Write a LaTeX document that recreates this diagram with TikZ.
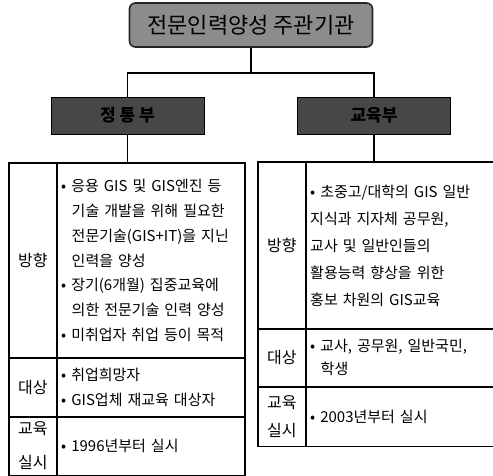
\documentclass[tikz,border=0pt]{standalone}
\usepackage{fontspec}
\setmainfont{Noto Sans CJK KR}
\usetikzlibrary{
  arrows.meta,
  positioning
}
\tikzset{>=Latex}
\newcommand{\ind}{\hspace*{0.7em}}

\begin{document}
\begin{tikzpicture}[x=1pt,y=-1pt,
  ttl/.style={draw=black!85,line width=1.6pt,rounded corners=6pt,fill=black!45,
    minimum width=243pt,minimum height=44pt,inner sep=0pt,font=\fontsize{22}{24}\selectfont},
  hdr/.style={draw=black,line width=1pt,fill=black!72,minimum width=153pt,
    minimum height=37pt,inner sep=0pt,font=\bfseries\fontsize{17}{20}\selectfont},
  lbl/.style={draw,line width=0.8pt,minimum width=47pt,inner sep=0pt,align=center,
    font=\fontsize{16}{34}\selectfont},
  txt/.style={draw,line width=0.8pt,text width=179pt,inner xsep=4pt,inner ysep=0pt,
    align=left,font=\fontsize{15}{24.7}\selectfont},
  link/.style={line width=1.6pt},
  frame/.style={line width=1.8pt}]
\useasboundingbox (0,0) rectangle (493,475);

\node[ttl] (top) at (251,25) {전문인력양성 주관기관};
\node[hdr] (hl) at (127.5,115.5) {정 통 부};
\node[hdr] (hr) at (374,115.5) {교육부};

\node[lbl,anchor=north west,minimum height=194pt] (la) at (9,163) {방향};
\node[lbl,below=0pt of la,minimum height=58pt] (lb) {대상};
\node[lbl,below=0pt of lb,minimum height=58pt] (lc) {교육\\실시};
\node[txt,right=0pt of la,minimum height=194pt] (ta) {• 응용 GIS 및 GIS엔진 등\\
\ind 기술 개발을 위해 필요한\\
\ind 전문기술(GIS+IT)을 지닌\\
\ind 인력을 양성\\
• 장기(6개월) 집중교육에\\
\ind 의한 전문기술 인력 양성\\
• 미취업자 취업 등이 목적};
\node[txt,right=0pt of lb,minimum height=58pt] (tb) {• 취업희망자\\
• GIS업체 재교육 대상자};
\node[txt,right=0pt of lc,minimum height=58pt] (tc) {• 1996년부터 실시};
\draw[frame] (la.north west) rectangle (tc.south east);

\node[lbl,anchor=north west,minimum height=166pt] (ra) at (258,162) {방향};
\node[lbl,below=0pt of ra,minimum height=57pt] (rb) {대상};
\node[lbl,below=0pt of rb,minimum height=59pt,font=\fontsize{16}{28}\selectfont] (rc) {교육\\실시};
\node[txt,right=0pt of ra,minimum height=166pt,font=\fontsize{15}{27}\selectfont] (sa) {• 초중고/대학의 GIS 일반\\
지식과 지자체 공무원,\\
교사 및 일반인들의\\
활용능력 향상을 위한\\
홍보 차원의 GIS교육};
\node[txt,right=0pt of rb,minimum height=57pt,font=\fontsize{15}{23}\selectfont] (sb) {• 교사, 공무원, 일반국민,\\
\ind 학생};
\node[txt,right=0pt of rc,minimum height=59pt] (sc) {• 2003년부터 실시};
\draw[frame] (ra.north west) rectangle (sc.south east);

\coordinate (jn) at ([yshift=-25pt]top.south);
\draw[link] (top.south) -- (jn);
\draw[link] (jn) -| (hl.north);
\draw[link] (jn) -| (hr.north);
\draw[link] (hl.south) -- (hl.south |- la.north);
\draw[link] (hr.south) -- (hr.south |- ra.north);
\end{tikzpicture}
\end{document}
